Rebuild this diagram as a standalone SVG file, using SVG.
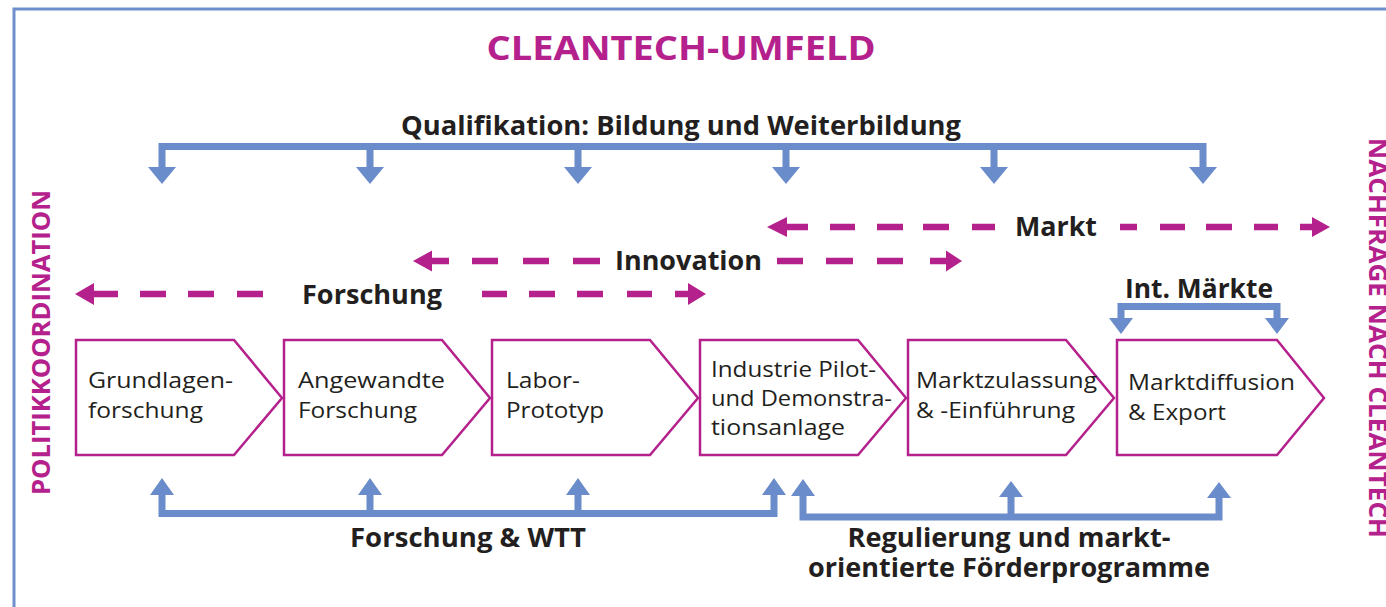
<svg xmlns="http://www.w3.org/2000/svg" width="1386" height="607" viewBox="0 0 1386 607">
<style>
.frame{fill:none;stroke:#6f8fcc;stroke-width:3}
.blue{fill:none;stroke:#6b8cca;stroke-width:7;stroke-linejoin:miter}
.bhead{fill:#6b8cca}
.dash{fill:none;stroke:#b5218c;stroke-width:6.5}
.mhead{fill:#b5218c}
.chev{fill:#fff;stroke:#b5218c;stroke-width:2.5}
.lbl{font-family:"Open Sans","Noto Sans",sans-serif;font-size:22px;fill:#231f20}
.bold{font-family:"Open Sans","Noto Sans",sans-serif;font-weight:700;font-size:27px;fill:#231f20}
.mag{font-family:"Open Sans","Noto Sans",sans-serif;font-weight:700;fill:#b5218c}
</style>
<rect width="1386" height="607" fill="#fff"/>
<path class="frame" d="M14 607 V9 H1386"/>
<text class="mag" x="681" y="60" font-size="34" text-anchor="middle" textLength="389" lengthAdjust="spacingAndGlyphs">CLEANTECH-UMFELD</text>
<text class="mag" font-size="25" transform="translate(50 495) rotate(-90)" textLength="305" lengthAdjust="spacingAndGlyphs">POLITIKKOORDINATION</text>
<text class="mag" font-size="25" transform="translate(1369 138) rotate(90)" textLength="400" lengthAdjust="spacingAndGlyphs">NACHFRAGE NACH CLEANTECH</text>

<g id="connectors">
  <g id="qualifikation">
    <text class="bold" x="681" y="135" text-anchor="middle" textLength="560" lengthAdjust="spacingAndGlyphs">Qualifikation: Bildung und Weiterbildung</text>
    <path class="blue" d="M162 168 V146.5 H1203 V168 M370 146.5 V168 M578 146.5 V168 M786 146.5 V168 M994 146.5 V168"/>
    <path class="bhead" d="M148 167 H176 L162 184 Z M356 167 H384 L370 184 Z M564 167 H592 L578 184 Z M772 167 H800 L786 184 Z M980 167 H1008 L994 184 Z M1189 167 H1217 L1203 184 Z"/>
  </g>
  <g id="markt">
    <path class="dash" d="M785 227 H808 M830 227 H855 M877 227 H903 M923 227 H949 M972 227 H995 M1120 227 H1137 M1160 227 H1185 M1206 227 H1232 M1254 227 H1278 M1300 227 H1314"/>
    <path class="mhead" d="M767 227 L787 217 V237 Z M1330 227 L1312 217 V237 Z"/>
    <text class="bold" x="1015" y="236" textLength="82" lengthAdjust="spacingAndGlyphs">Markt</text>
  </g>
  <g id="innovation">
    <path class="dash" d="M430 261 H449 M472 261 H498 M523 261 H549 M573 261 H600 M777 261 H803 M826 261 H853 M877 261 H903 M930 261 H949"/>
    <path class="mhead" d="M413 261 L432 250.5 V271.5 Z M962 261 L946 250.5 V271.5 Z"/>
    <text class="bold" x="615" y="270" textLength="147" lengthAdjust="spacingAndGlyphs">Innovation</text>
  </g>
  <g id="forschung-line">
    <path class="dash" d="M91 294 H118 M140 294 H166 M188 294 H214 M237 294 H263 M482 294 H507 M529 294 H555 M577 294 H603 M627 294 H652 M675 294 H690"/>
    <path class="mhead" d="M75 294 L94 283 V305 Z M706 294 L688 283 V305 Z"/>
    <text class="bold" x="302" y="304" textLength="140" lengthAdjust="spacingAndGlyphs">Forschung</text>
  </g>
  <g id="int-maerkte">
    <text class="bold" x="1125" y="298" textLength="148" lengthAdjust="spacingAndGlyphs">Int. Märkte</text>
    <path class="blue" d="M1121 319 V306.5 H1277 V319"/>
    <path class="bhead" d="M1109 318 H1133 L1121 334 Z M1265 318 H1289 L1277 334 Z"/>
  </g>
  <g id="forschung-wtt">
    <path class="blue" d="M162 495 V513.5 H774 V495 M370 513.5 V495 M578 513.5 V495"/>
    <path class="bhead" d="M150 495 H174 L162 478 Z M358 495 H382 L370 478 Z M566 495 H590 L578 478 Z M762 495 H786 L774 478 Z"/>
    <text class="bold" x="468" y="547" text-anchor="middle" textLength="236" lengthAdjust="spacingAndGlyphs">Forschung &amp; WTT</text>
  </g>
  <g id="regulierung">
    <path class="blue" d="M803 496 V517 H1219 V496 M1011 517 V496"/>
    <path class="bhead" d="M791 496 H815 L803 479 Z M999 497 H1023 L1011 481 Z M1207 498 H1231 L1219 482 Z"/>
    <text class="bold" x="1009" y="547" font-size="25.5" text-anchor="middle" textLength="323" lengthAdjust="spacingAndGlyphs">Regulierung und markt-</text>
    <text class="bold" x="1009" y="577" font-size="25.5" text-anchor="middle" textLength="402" lengthAdjust="spacingAndGlyphs">orientierte Förderprogramme</text>
  </g>
</g>

<g id="node-grundlagen">
  <path class="chev" d="M76 340 H234 L282 398 L234 455 H76 Z"/>
  <text class="lbl" x="88" y="388" textLength="145" lengthAdjust="spacingAndGlyphs">Grundlagen-</text>
  <text class="lbl" x="88" y="418" textLength="115" lengthAdjust="spacingAndGlyphs">forschung</text>
</g>
<g id="node-angewandte">
  <path class="chev" d="M284 340 H442 L490 398 L442 455 H284 Z"/>
  <text class="lbl" x="298" y="388" textLength="147" lengthAdjust="spacingAndGlyphs">Angewandte</text>
  <text class="lbl" x="298" y="418" textLength="119" lengthAdjust="spacingAndGlyphs">Forschung</text>
</g>
<g id="node-labor">
  <path class="chev" d="M492 340 H650 L698 398 L650 455 H492 Z"/>
  <text class="lbl" x="506" y="388" textLength="74" lengthAdjust="spacingAndGlyphs">Labor-</text>
  <text class="lbl" x="506" y="418" textLength="98" lengthAdjust="spacingAndGlyphs">Prototyp</text>
</g>
<g id="node-pilot">
  <path class="chev" d="M700 340 H858 L906 398 L858 455 H700 Z"/>
  <text class="lbl" x="711" y="377" textLength="165" lengthAdjust="spacingAndGlyphs">Industrie Pilot-</text>
  <text class="lbl" x="711" y="406" textLength="181" lengthAdjust="spacingAndGlyphs">und Demonstra-</text>
  <text class="lbl" x="711" y="435" textLength="134" lengthAdjust="spacingAndGlyphs">tionsanlage</text>
</g>
<g id="node-zulassung">
  <path class="chev" d="M908 340 H1066 L1114 398 L1066 455 H908 Z"/>
  <text class="lbl" x="916" y="388" textLength="181" lengthAdjust="spacingAndGlyphs">Marktzulassung</text>
  <text class="lbl" x="916" y="418" textLength="159" lengthAdjust="spacingAndGlyphs">&amp; -Einführung</text>
</g>
<g id="node-diffusion">
  <path class="chev" d="M1117 340 H1277 L1324 398 L1277 455 H1117 Z"/>
  <text class="lbl" x="1128" y="390" textLength="167" lengthAdjust="spacingAndGlyphs">Marktdiffusion</text>
  <text class="lbl" x="1128" y="420" textLength="98" lengthAdjust="spacingAndGlyphs">&amp; Export</text>
</g>
</svg>
